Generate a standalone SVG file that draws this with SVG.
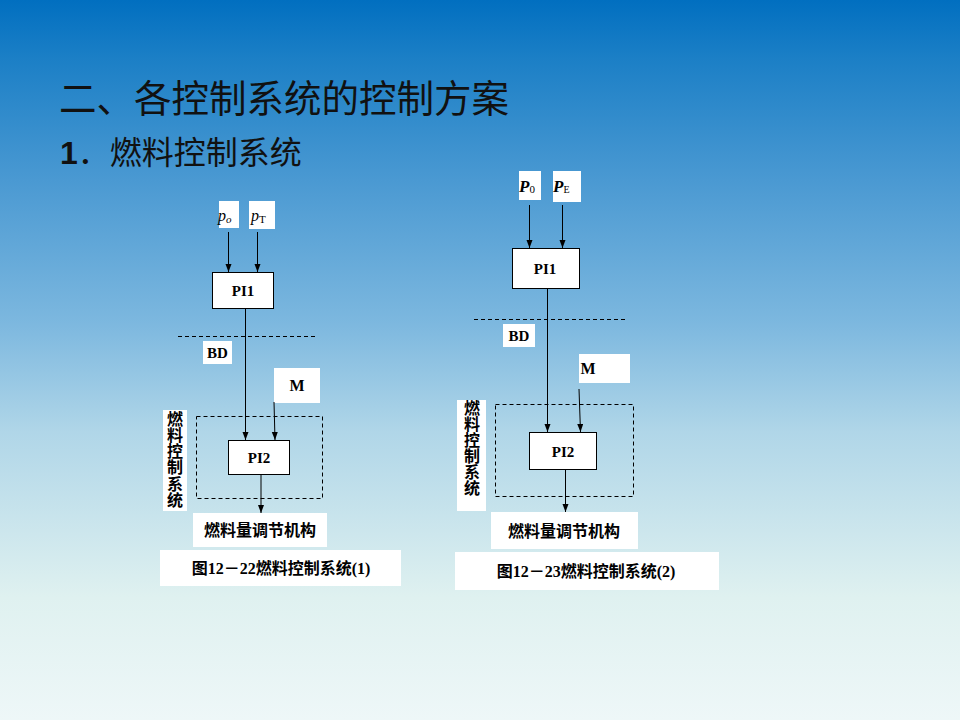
<svg xmlns="http://www.w3.org/2000/svg" width="960" height="720" viewBox="0 0 960 720">
<defs>
<linearGradient id="bg" x1="0" y1="0" x2="0" y2="1">
<stop offset="0" stop-color="#016fc0"/>
<stop offset="0.08" stop-color="#1b7fc6"/>
<stop offset="0.25" stop-color="#4a99d2"/>
<stop offset="0.45" stop-color="#7db8df"/>
<stop offset="0.6" stop-color="#b0d6e8"/>
<stop offset="0.83" stop-color="#dff1f0"/>
<stop offset="1" stop-color="#eef7f8"/>
</linearGradient>
<marker id="arr" markerUnits="userSpaceOnUse" markerWidth="8" markerHeight="8" refX="8" refY="3" orient="auto">
<path d="M0,0 L8,3 L0,6 Z" fill="#000"/>
</marker>
</defs>
<style>
.lbl{fill:#fff;stroke:none}
.box{fill:#fff;stroke:#000;stroke-width:1}
.dbox{fill:none;stroke:#000;stroke-width:1;stroke-dasharray:4,3}
.dash{stroke:#000;stroke-width:1;stroke-dasharray:4,3}
.ln{stroke:#000;stroke-width:1;fill:none}
.ar{stroke:#000;stroke-width:1;fill:none;marker-end:url(#arr)}
.t{font-family:"Liberation Serif","Noto Sans CJK SC",serif;font-weight:bold;fill:#000}
.cn{font-family:"Liberation Serif","Noto Sans CJK SC",serif;font-weight:bold;fill:#000;font-size:16px}
.it{font-family:"Liberation Serif",serif;font-style:italic;fill:#000}
.title{font-family:"Noto Sans CJK SC",sans-serif;fill:#111}
</style>
<rect x="0" y="0" width="960" height="720" fill="url(#bg)"/>

<g id="title">
<text class="title" x="59" y="112" font-size="37.5">二、各控制系统的控制方案</text>
<text class="title" x="60" y="164" font-size="32"><tspan font-family="Liberation Sans,sans-serif" font-weight="bold">1</tspan>．燃料控制系统</text>
</g>

<!-- Left diagram -->
<g id="L-po">
<rect class="lbl" x="219" y="201" width="20" height="27"/>
<text class="it" x="218" y="221" font-size="16">p<tspan font-size="11" dy="2">o</tspan></text>
</g>
<g id="L-pT">
<rect class="lbl" x="249" y="201" width="26" height="28"/>
<text class="it" x="251" y="221" font-size="16">p<tspan font-size="11" dy="2" font-style="normal">T</tspan></text>
</g>
<g id="L-PI1">
<rect class="box" x="212.5" y="272.5" width="61" height="36"/>
<text class="t" x="243" y="296" font-size="15" text-anchor="middle">PI1</text>
</g>
<g id="L-BD">
<rect class="lbl" x="203" y="341" width="29" height="23"/>
<text class="t" x="217.5" y="358" font-size="15" text-anchor="middle">BD</text>
</g>
<g id="L-M">
<rect class="lbl" x="274" y="368" width="46" height="35"/>
<text class="t" x="297" y="391" font-size="16" text-anchor="middle">M</text>
</g>
<g id="L-group">
<rect class="dbox" x="196.5" y="416.5" width="126" height="82"/>
</g>
<g id="L-vlabel">
<rect class="lbl" x="163" y="410" width="24" height="101"/>
<text class="cn" font-size="15" text-anchor="middle"><tspan x="175" y="425">燃</tspan><tspan x="175" y="441">料</tspan><tspan x="175" y="457">控</tspan><tspan x="175" y="473">制</tspan><tspan x="175" y="490">系</tspan><tspan x="175" y="506">统</tspan></text>
</g>
<g id="L-PI2">
<rect class="box" x="228.5" y="440.5" width="61" height="34"/>
<text class="t" x="259" y="463" font-size="15" text-anchor="middle">PI2</text>
</g>
<g id="L-act">
<rect class="lbl" x="193" y="513" width="134" height="34"/>
<text class="cn" x="260" y="536" text-anchor="middle">燃料量调节机构</text>
</g>
<g id="L-cap">
<rect class="lbl" x="160" y="550" width="241" height="36"/>
<text class="cn" x="281" y="574" text-anchor="middle">图12－22燃料控制系统(1)</text>
</g>

<!-- Right diagram -->
<g id="R-P0">
<rect class="lbl" x="519" y="171" width="22" height="29"/>
<text class="it" x="519" y="192" font-size="17" font-weight="bold">P<tspan font-size="11" dy="1" font-style="normal" font-weight="normal">0</tspan></text>
</g>
<g id="R-PE">
<rect class="lbl" x="553" y="171" width="28" height="31"/>
<text class="it" x="553" y="192" font-size="17" font-weight="bold">P<tspan font-size="10" dy="1" font-style="normal" font-weight="normal">E</tspan></text>
</g>
<g id="R-PI1">
<rect class="box" x="512.5" y="248.5" width="67" height="40"/>
<text class="t" x="545" y="274" font-size="15" text-anchor="middle">PI1</text>
</g>
<g id="R-BD">
<rect class="lbl" x="503" y="324" width="32" height="23"/>
<text class="t" x="519" y="341" font-size="15" text-anchor="middle">BD</text>
</g>
<g id="R-M">
<rect class="lbl" x="579" y="354" width="51" height="29"/>
<text class="t" x="588" y="374" font-size="16" text-anchor="middle">M</text>
</g>
<g id="R-group">
<rect class="dbox" x="495.5" y="404.5" width="138" height="92"/>
</g>
<g id="R-vlabel">
<rect class="lbl" x="457" y="400" width="29" height="111"/>
<text class="cn" font-size="14" text-anchor="middle"><tspan x="472" y="414">燃</tspan><tspan x="472" y="430">料</tspan><tspan x="472" y="446">控</tspan><tspan x="472" y="462">制</tspan><tspan x="472" y="478">系</tspan><tspan x="472" y="494">统</tspan></text>
</g>
<g id="R-PI2">
<rect class="box" x="529.5" y="432.5" width="67" height="37"/>
<text class="t" x="563" y="457" font-size="15" text-anchor="middle">PI2</text>
</g>
<g id="R-act">
<rect class="lbl" x="491" y="512" width="147" height="37"/>
<text class="cn" x="564" y="537" text-anchor="middle">燃料量调节机构</text>
</g>
<g id="R-cap">
<rect class="lbl" x="455" y="552" width="264" height="38"/>
<text class="cn" x="586" y="577" text-anchor="middle">图12－23燃料控制系统(2)</text>
</g>

<g id="connectors">
<line class="dash" x1="178" y1="336.5" x2="315" y2="336.5"/>
<line class="ar" x1="228.5" y1="232" x2="228.5" y2="272"/>
<line class="ar" x1="257.5" y1="232" x2="257.5" y2="272"/>
<line class="ar" x1="245.5" y1="309" x2="245.5" y2="440"/>
<line class="ar" x1="274" y1="402" x2="275" y2="440"/>
<line class="ar" x1="261" y1="475" x2="261" y2="513"/>

<line class="dash" x1="474" y1="319.5" x2="626" y2="319.5"/>
<line class="ar" x1="529.5" y1="205" x2="529.5" y2="248"/>
<line class="ar" x1="562.5" y1="205" x2="562.5" y2="248"/>
<line class="ar" x1="547.5" y1="289" x2="547.5" y2="432"/>
<line class="ar" x1="579" y1="389" x2="580.5" y2="432"/>
<line class="ar" x1="565.5" y1="470" x2="565.5" y2="512"/>
</g>
</svg>
